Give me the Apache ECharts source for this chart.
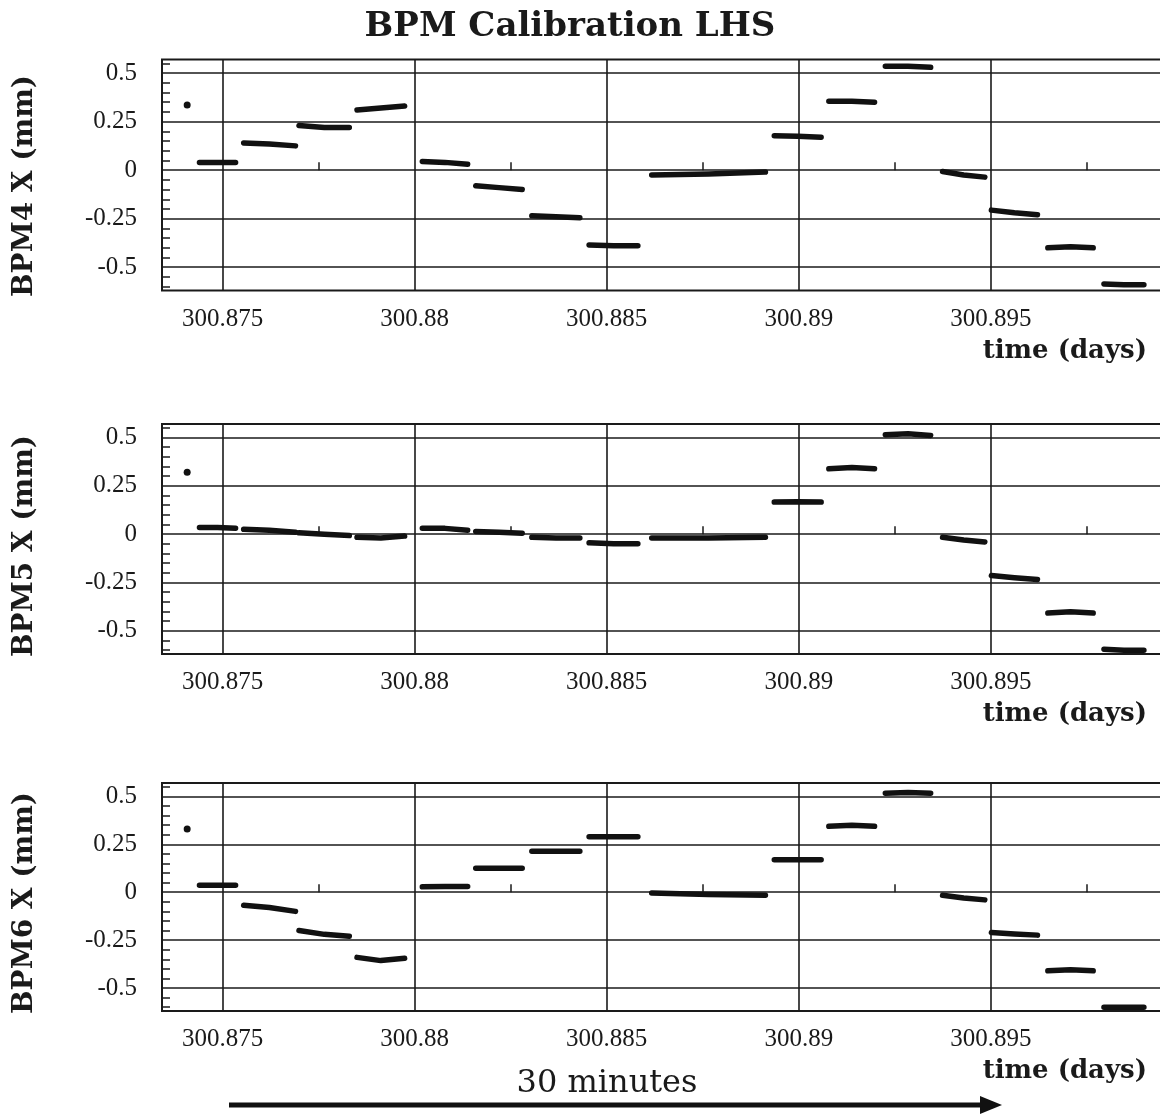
<!DOCTYPE html>
<html><head><meta charset="utf-8">
<script src="https://cdn.jsdelivr.net/npm/echarts@6/dist/echarts.min.js"></script>
<style>html,body{margin:0;padding:0;background:#fff}#c{width:1160px;height:1114px}</style>
</head><body><div id="c"></div>
<script>
// ---------- data ----------
const chartTitle = 'BPM Calibration LHS';
const panelNames = ['BPM4 X (mm)', 'BPM5 X (mm)', 'BPM6 X (mm)'];
const xAxisTitle = 'time (days)';
const arrowLabel = '30 minutes';

const xMajorTicks = [300.875, 300.88, 300.885, 300.89, 300.895];
const xTickLabels = ['300.875', '300.88', '300.885', '300.89', '300.895'];
const xMinorTicks = [300.8775, 300.8825, 300.8875, 300.8925, 300.8975];
const yMajorTicks = [-0.5, -0.25, 0, 0.25, 0.5];
const yTickLabels = ['-0.5', '-0.25', '0', '0.25', '0.5'];
const yMinorTicks = [-0.6, -0.55, -0.45, -0.4, -0.35, -0.3, -0.2, -0.15, -0.1, -0.05,
                     0.05, 0.1, 0.15, 0.2, 0.3, 0.35, 0.4, 0.45, 0.55];

// start / middle / end time of each calibration step (days)
const segTimes = [
  [300.87440, 300.87487, 300.87534],
  [300.87555, 300.87622, 300.87690],
  [300.87699, 300.87765, 300.87830],
  [300.87850, 300.87912, 300.87974],
  [300.88020, 300.88079, 300.88138],
  [300.88159, 300.88220, 300.88280],
  [300.88305, 300.88368, 300.88430],
  [300.88454, 300.88518, 300.88581],
  [300.88617, 300.88765, 300.88913],
  [300.88936, 300.88997, 300.89058],
  [300.89078, 300.89138, 300.89197],
  [300.89225, 300.89284, 300.89343],
  [300.89374, 300.89429, 300.89484],
  [300.89501, 300.89561, 300.89621],
  [300.89648, 300.89707, 300.89766],
  [300.89794, 300.89846, 300.89898]
];

// first isolated reading of each BPM [time, mm]
const bpm4First = [300.87408, 0.335];
const bpm5First = [300.87408, 0.32];
const bpm6First = [300.87408, 0.33];

// readings (mm) at start / middle / end of each step
const bpm4 = [
  [0.04, 0.04, 0.04], [0.14, 0.135, 0.125], [0.23, 0.22, 0.22], [0.31, 0.32, 0.33],
  [0.045, 0.04, 0.03], [-0.08, -0.09, -0.10], [-0.235, -0.24, -0.245], [-0.385, -0.39, -0.39],
  [-0.025, -0.02, -0.01], [0.177, 0.175, 0.17], [0.355, 0.355, 0.35], [0.535, 0.535, 0.53],
  [-0.007, -0.025, -0.036], [-0.206, -0.22, -0.23], [-0.40, -0.395, -0.40], [-0.586, -0.59, -0.59]
];
const bpm5 = [
  [0.035, 0.035, 0.031], [0.025, 0.02, 0.01], [0.007, 0.0, -0.007], [-0.016, -0.02, -0.01],
  [0.03, 0.03, 0.02], [0.014, 0.01, 0.005], [-0.016, -0.02, -0.02], [-0.045, -0.05, -0.05],
  [-0.02, -0.02, -0.016], [0.166, 0.168, 0.166], [0.338, 0.345, 0.338], [0.515, 0.52, 0.511],
  [-0.016, -0.03, -0.041], [-0.214, -0.225, -0.235], [-0.408, -0.402, -0.408], [-0.595, -0.6, -0.6]
];
const bpm6 = [
  [0.036, 0.036, 0.036], [-0.068, -0.08, -0.1], [-0.2, -0.22, -0.23], [-0.34, -0.357, -0.345],
  [0.028, 0.03, 0.03], [0.125, 0.125, 0.125], [0.214, 0.214, 0.214], [0.29, 0.29, 0.29],
  [-0.004, -0.012, -0.016], [0.17, 0.17, 0.17], [0.344, 0.35, 0.344], [0.517, 0.52, 0.517],
  [-0.016, -0.03, -0.04], [-0.21, -0.218, -0.224], [-0.41, -0.405, -0.41], [-0.6, -0.6, -0.6]
];

const xMin = 300.873425, xMax = 300.899529;
const yMin = -0.62, yMax = 0.57;

// ---------- build ----------
const panelValues = [bpm4, bpm5, bpm6];
const panelFirst = [bpm4First, bpm5First, bpm6First];
const grids = [
  {left: 162, top: 59.5, width: 1003, height: 231},
  {left: 162, top: 424, width: 1003, height: 230},
  {left: 162, top: 783, width: 1003, height: 228}
];
const nameCenters = [186, 546, 903];
const timeLabelY = [351, 714, 1071];

const ink = '#1a1a1a';
const serif = '"Liberation Serif", "Times New Roman", serif';
const boldSerif = '"DejaVu Serif", serif';

function stepData(vals) {
  const out = [];
  segTimes.forEach((ts, i) => {
    ts.forEach((t, j) => out.push([t, vals[i][j]]));
    out.push([null, null]);
  });
  return out;
}
function xLabel(v) {
  const k = xMajorTicks.findIndex(t => Math.abs(t - v) < 1e-7);
  return k >= 0 ? xTickLabels[k] : '';
}
function yLabel(v) {
  const k = yMajorTicks.findIndex(t => Math.abs(t - v) < 1e-7);
  return k >= 0 ? yTickLabels[k] : '';
}

const xAxes = [], yAxes = [], series = [], graphics = [];
grids.forEach((g, i) => {
  g.show = true; g.borderColor = ink; g.borderWidth = 2; g.backgroundColor = 'transparent';
  g.outerBoundsMode = 'none'; g.containLabel = false;
  xAxes.push({
    type: 'value', gridIndex: i, min: xMin, max: xMax, position: 'bottom',
    axisLine: {show: false},
    axisTick: {show: false, customValues: xMajorTicks},
    axisLabel: {show: true, customValues: xMajorTicks, formatter: xLabel, margin: 16,
      fontFamily: serif, fontSize: 25, color: ink, hideOverlap: false},
    splitLine: {show: true, lineStyle: {color: ink, width: 1.6}}
  });
  xAxes.push({
    type: 'value', gridIndex: i, min: xMin, max: xMax, position: 'bottom',
    axisLine: {show: false},
    axisTick: {show: true, inside: true, length: 8, customValues: xMinorTicks, lineStyle: {color: ink, width: 1.5}},
    axisLabel: {show: false},
    splitLine: {show: false}
  });
  yAxes.push({
    type: 'value', gridIndex: i, min: yMin, max: yMax, position: 'left',
    axisLine: {show: false},
    axisTick: {show: false, customValues: yMajorTicks},
    axisLabel: {show: true, customValues: yMajorTicks, formatter: yLabel, margin: 25,
      fontFamily: serif, fontSize: 25, color: ink},
    splitLine: {show: true, lineStyle: {color: ink, width: 1.6}}
  });
  yAxes.push({
    type: 'value', gridIndex: i, min: yMin, max: yMax, position: 'left',
    axisLine: {show: false},
    axisTick: {show: true, inside: true, length: 8, customValues: yMinorTicks, lineStyle: {color: ink, width: 1.5}},
    axisLabel: {show: false},
    splitLine: {show: false}
  });
  series.push({
    type: 'line', xAxisIndex: 2 * i, yAxisIndex: 2 * i,
    data: stepData(panelValues[i]), connectNulls: false, showSymbol: false, symbol: 'none',
    lineStyle: {color: '#111', width: 5.5, cap: 'round', join: 'round'},
    animation: false, z: 5
  });
  series.push({
    type: 'scatter', xAxisIndex: 2 * i, yAxisIndex: 2 * i,
    data: [panelFirst[i]], symbolSize: 7, itemStyle: {color: '#111', opacity: 1},
    animation: false, z: 5
  });
  graphics.push({
    type: 'text', x: 25, y: nameCenters[i], rotation: Math.PI / 2,
    style: {text: panelNames[i], fontFamily: boldSerif, fontWeight: 'bold', fontSize: 28,
      fill: ink, textAlign: 'center', textVerticalAlign: 'middle'}
  });
  graphics.push({
    type: 'text', x: 1147, y: timeLabelY[i],
    style: {text: xAxisTitle, fontFamily: boldSerif, fontWeight: 'bold', fontSize: 26,
      fill: ink, textAlign: 'right', textVerticalAlign: 'middle'}
  });
});

graphics.push({
  type: 'text', x: 570, y: 27,
  style: {text: chartTitle, fontFamily: boldSerif, fontWeight: 'bold', fontSize: 34,
    fill: ink, textAlign: 'center', textVerticalAlign: 'middle'}
});
graphics.push({
  type: 'text', x: 607, y: 1084,
  style: {text: arrowLabel, fontFamily: boldSerif, fontSize: 32,
    fill: ink, textAlign: 'center', textVerticalAlign: 'middle'}
});
graphics.push({
  type: 'line', shape: {x1: 229, y1: 1105, x2: 985, y2: 1105},
  style: {stroke: '#111', lineWidth: 5}
});
graphics.push({
  type: 'polygon', shape: {points: [[980, 1096], [1002, 1105], [980, 1114]]},
  style: {fill: '#111'}
});

const chart = echarts.init(document.getElementById('c'), null, {renderer: 'canvas'});
chart.setOption({
  backgroundColor: '#ffffff',
  animation: false,
  grid: grids,
  xAxis: xAxes,
  yAxis: yAxes,
  series: series,
  graphic: graphics
});
</script></body></html>
